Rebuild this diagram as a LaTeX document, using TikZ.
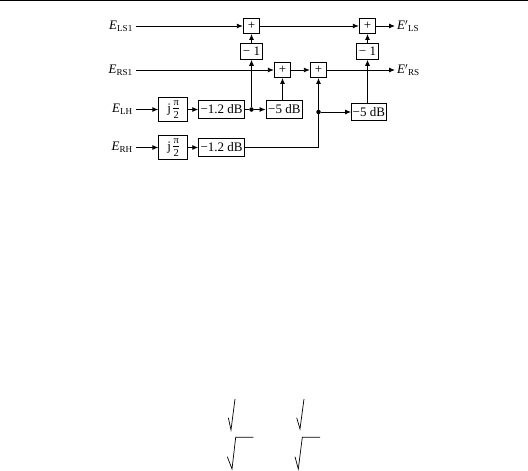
\documentclass[tikz,border=0pt]{standalone}
\usepackage{fontspec}
\setmainfont{Liberation Serif}
\usetikzlibrary{arrows.meta}
\newcommand{\jpitwo}{j\,$\vcenter{\hbox{\fontsize{10.5}{10.5}\selectfont\vbox{\hbox to 6pt{\hss π\hss}\kern2.5pt\hrule height0.4pt\kern2.5pt\hbox to 6pt{\hss 2\hss}}}}$}
\begin{document}
\begin{tikzpicture}[x=1pt,y=-1pt,
  blk/.style={draw, line width=0.9pt, inner sep=0pt, font=\fontsize{13}{15}\selectfont},
  sumbox/.style={blk, minimum width=16.5pt, minimum height=15pt},
  negbox/.style={blk, minimum width=22.7pt, minimum height=16pt},
  jbox/.style={blk, minimum width=29pt, minimum height=23.5pt},
  gainbox/.style={blk, minimum width=45.6pt, minimum height=17.5pt},
  fivebox/.style={blk, minimum width=36.5pt, minimum height=17.5pt},
  lbl/.style={inner ysep=0pt, inner xsep=3pt, font=\fontsize{13}{15}\selectfont},
  conn/.style={line width=0.9pt},
  arr/.style={conn, -{Latex[length=6pt,width=5pt]}},
  jdot/.style={circle, fill, inner sep=0pt, minimum size=4.5pt},
  rad/.style={line width=0.7pt}]
\useasboundingbox (0,0) rectangle (528,471);
\draw[line width=1.2pt] (0,0.6) -- (528,0.6);
% blocks
\node[sumbox] (p1) at (251.5,26) {+};
\node[sumbox] (p2) at (367.5,26) {+};
\node[negbox] (m1) at (251.5,51.3) {− 1};
\node[negbox] (m2) at (367.5,51.3) {− 1};
\node[sumbox] (p3) at (282.5,70) {+};
\node[sumbox] (p4) at (318.5,70) {+};
\node[jbox] (j1) at (173.3,109.5) {\jpitwo};
\node[jbox] (j2) at (173.3,147.5) {\jpitwo};
\node[gainbox] (g1) at (221.5,109.5) {−1.2 dB};
\node[gainbox] (g2) at (221.5,147.5) {−1.2 dB};
\node[fivebox] (f1) at (284.3,109.5) {−5 dB};
\node[fivebox, minimum width=34.5pt] (f2) at (368.8,112) {−5 dB};
\node[jdot] (d1) at (251.5,109.5) {};
\node[jdot] (d2) at (318.5,112) {};
% labels
\node[lbl, anchor=east] (els) at (136,26) {\textit{E}\textsubscript{LS1}};
\node[lbl, anchor=east] (ers) at (136,70) {\textit{E}\textsubscript{RS1}};
\node[lbl, anchor=east] (elh) at (136,109.5) {\textit{E}\textsubscript{LH}};
\node[lbl, anchor=east] (erh) at (136,147.5) {\textit{E}\textsubscript{RH}};
\node[lbl, anchor=west, inner xsep=2pt] (ols) at (395,26) {\textit{E}$'$\textsubscript{LS}};
\node[lbl, anchor=west, inner xsep=2pt] (ors) at (395,70) {\textit{E}$'$\textsubscript{RS}};
% connectors
\draw[arr] (els.east |- p1) -- (p1);
\draw[arr] (p1) -- (p2);
\draw[arr] (p2) -- (ols.west |- p2);
\draw[arr] (m1) -- (p1);
\draw[arr] (m2) -- (p2);
\draw[arr] (ers.east |- p3) -- (p3);
\draw[arr] (p3) -- (p4);
\draw[arr] (p4) -- (ors.west |- p4);
\draw[arr] (elh.east |- j1) -- (j1);
\draw[arr] (j1) -- (g1);
\draw[arr] (erh.east |- j2) -- (j2);
\draw[arr] (j2) -- (g2);
\draw[conn] (g1) -- (d1);
\draw[arr] (d1) -- (m1);
\draw[arr] (d1) -- (f1);
\draw[arr] (f1.north -| p3) -- (p3);
\draw[conn] (g2) -| (d2);
\draw[arr] (d2) -- (p4);
\draw[arr] (d2) -- (f2);
\draw[arr] (f2.north -| m2) -- (m2);
% radical fragments
\draw[rad] (228.3,417.7) -- (231,430) -- (235,399);
\draw[rad] (227.3,456.7) -- (232,469) -- (235.7,437.3) -- (253.3,437.3);
\draw[rad] (296.7,417.7) -- (300,429) -- (304,399);
\draw[rad] (295,456.7) -- (298.3,469) -- (302.3,437.3) -- (320,437.3);
\end{tikzpicture}
\end{document}
